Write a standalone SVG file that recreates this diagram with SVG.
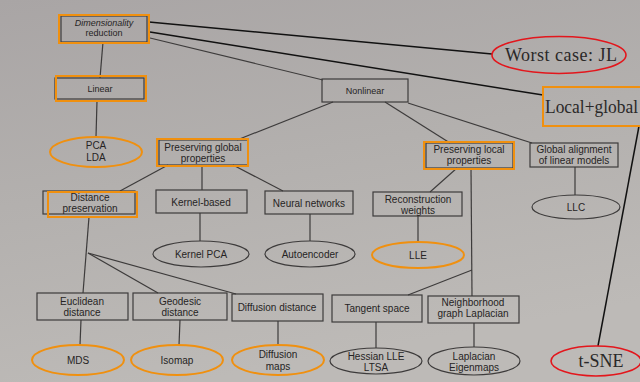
<svg xmlns="http://www.w3.org/2000/svg" width="640" height="382" viewBox="0 0 640 382">
<defs>
<linearGradient id="bg" x1="0" y1="0" x2="0.3" y2="1">
<stop offset="0" stop-color="#a9a5a5"/>
<stop offset="0.5" stop-color="#b3b0ae"/>
<stop offset="1" stop-color="#bdbab7"/>
</linearGradient>
<style>
.box{fill:none;stroke:#3d3b3b;stroke-width:1.2}
.hl{fill:none;stroke:#f0900f;stroke-width:2}
.red{fill:none;stroke:#e3161c;stroke-width:1.6}
.edge{stroke:#3d3b3b;stroke-width:1.2;fill:none}
.ann{stroke:#111;stroke-width:1.5;fill:none}
.t{font-family:"Liberation Sans",Arial,sans-serif;font-size:10px;fill:#262424;text-anchor:middle}
.s{font-family:"Liberation Serif","Times New Roman",serif;fill:#2a2828}
</style>
</defs>
<rect width="640" height="382" fill="url(#bg)"/>

<g id="connectors">
<line class="edge" x1="103" y1="42" x2="100" y2="78"/>
<line class="edge" x1="150" y1="38" x2="323" y2="80"/>
<line class="edge" x1="97" y1="101" x2="96" y2="137"/>
<line class="edge" x1="333" y1="102" x2="237" y2="140"/>
<line class="edge" x1="385" y1="102" x2="450" y2="143"/>
<line class="edge" x1="408" y1="103" x2="532" y2="143"/>
<line class="edge" x1="168" y1="165" x2="120" y2="191"/>
<line class="edge" x1="202" y1="166" x2="202" y2="190"/>
<line class="edge" x1="233" y1="165" x2="283" y2="191"/>
<line class="edge" x1="457" y1="168" x2="430" y2="192"/>
<line class="edge" x1="471" y1="168" x2="472" y2="296"/>
<line class="edge" x1="472" y1="270" x2="408" y2="295"/>
<line class="edge" x1="575" y1="167" x2="575" y2="195"/>
<line class="edge" x1="200" y1="213" x2="200" y2="241"/>
<line class="edge" x1="310" y1="214" x2="310" y2="241"/>
<line class="edge" x1="418" y1="216" x2="418" y2="242"/>
<line class="edge" x1="89" y1="217" x2="83" y2="293"/>
<line class="edge" x1="88" y1="253" x2="158" y2="293"/>
<line class="edge" x1="88" y1="253" x2="236" y2="294"/>
<line class="edge" x1="81" y1="320" x2="80" y2="345"/>
<line class="edge" x1="180" y1="320" x2="179" y2="345"/>
<line class="edge" x1="278" y1="321" x2="278" y2="345"/>
<line class="edge" x1="376" y1="322" x2="376" y2="348"/>
<line class="edge" x1="474" y1="323" x2="474" y2="347"/>
<line class="ann" x1="149" y1="22" x2="492" y2="54"/>
<line class="ann" x1="150" y1="32" x2="543" y2="95"/>
<line class="ann" x1="598" y1="346" x2="639" y2="126"/>
</g>

<g id="dimred">
<rect class="box" x="61" y="16" width="86" height="26"/>
<rect class="hl" x="59" y="15" width="90" height="28"/>
<text class="t" style="font-size:9px;font-style:italic" x="104" y="26">Dimensionality</text>
<text class="t" style="font-size:9px" x="104" y="36">reduction</text>
</g>
<g id="linear">
<rect class="box" x="55" y="78" width="89" height="21"/>
<rect class="hl" x="56" y="76" width="90" height="25"/>
<text class="t" style="font-size:9px" x="100" y="92">Linear</text>
</g>
<g id="nonlinear">
<rect class="box" x="322" y="79" width="86" height="23"/>
<text class="t" style="font-size:9px" x="365" y="94">Nonlinear</text>
</g>
<g id="pcalda">
<ellipse class="hl" cx="96" cy="152" rx="46" ry="15"/>
<text class="t" x="96" y="149">PCA</text>
<text class="t" x="96" y="161">LDA</text>
</g>
<g id="pglobal">
<rect class="box" x="159" y="140" width="89" height="25"/>
<rect class="hl" x="157" y="139" width="91" height="27"/>
<text class="t" x="203" y="151">Preserving global</text>
<text class="t" x="203" y="162">properties</text>
</g>
<g id="plocal">
<rect class="box" x="426" y="143" width="87" height="25"/>
<rect class="hl" x="424" y="142" width="90" height="27"/>
<text class="t" x="469" y="153">Preserving local</text>
<text class="t" x="469" y="164">properties</text>
</g>
<g id="galign">
<rect class="box" x="530" y="143" width="88" height="24"/>
<text class="t" x="574" y="153">Global alignment</text>
<text class="t" x="574" y="164">of linear models</text>
</g>
<g id="distpres">
<rect class="box" x="43" y="191" width="92" height="23"/>
<rect class="hl" x="48" y="192" width="89" height="25"/>
<text class="t" x="90" y="201">Distance</text>
<text class="t" x="90" y="212">preservation</text>
</g>
<g id="kernel">
<rect class="box" x="156" y="190" width="91" height="23"/>
<text class="t" x="201" y="206">Kernel-based</text>
</g>
<g id="neural">
<rect class="box" x="265" y="191" width="88" height="23"/>
<text class="t" x="309" y="207">Neural networks</text>
</g>
<g id="recon">
<rect class="box" x="373" y="192" width="89" height="24"/>
<text class="t" x="418" y="203">Reconstruction</text>
<text class="t" x="418" y="214">weights</text>
</g>
<g id="llc">
<ellipse class="box" cx="576" cy="207" rx="44" ry="12"/>
<text class="t" x="576" y="211">LLC</text>
</g>
<g id="kpca">
<ellipse class="box" cx="201" cy="254" rx="48" ry="13"/>
<text class="t" x="201" y="258">Kernel PCA</text>
</g>
<g id="autoenc">
<ellipse class="box" cx="310" cy="254" rx="45" ry="13"/>
<text class="t" x="310" y="258">Autoencoder</text>
</g>
<g id="lle">
<ellipse class="hl" cx="418" cy="255" rx="46" ry="13"/>
<text class="t" x="418" y="259">LLE</text>
</g>
<g id="euclid">
<rect class="box" x="37" y="293" width="91" height="27"/>
<text class="t" x="82" y="305">Euclidean</text>
<text class="t" x="82" y="316">distance</text>
</g>
<g id="geodesic">
<rect class="box" x="133" y="293" width="94" height="27"/>
<text class="t" x="180" y="305">Geodesic</text>
<text class="t" x="180" y="316">distance</text>
</g>
<g id="diffdist">
<rect class="box" x="232" y="294" width="91" height="27"/>
<text class="t" x="277" y="311">Diffusion distance</text>
</g>
<g id="tangent">
<rect class="box" x="332" y="295" width="90" height="27"/>
<text class="t" x="377" y="312">Tangent space</text>
</g>
<g id="nglap">
<rect class="box" x="428" y="296" width="91" height="27"/>
<text class="t" x="473" y="306">Neighborhood</text>
<text class="t" x="473" y="317">graph Laplacian</text>
</g>
<g id="mds">
<ellipse class="hl" cx="78" cy="360" rx="46" ry="15"/>
<text class="t" x="78" y="364">MDS</text>
</g>
<g id="isomap">
<ellipse class="hl" cx="177" cy="360" rx="46" ry="15"/>
<text class="t" x="177" y="364">Isomap</text>
</g>
<g id="diffmaps">
<ellipse class="hl" cx="278" cy="360" rx="46" ry="15"/>
<text class="t" x="278" y="358">Diffusion</text>
<text class="t" x="278" y="370">maps</text>
</g>
<g id="hessian">
<ellipse class="box" cx="376" cy="361" rx="46" ry="13"/>
<text class="t" x="376" y="360">Hessian LLE</text>
<text class="t" x="376" y="371">LTSA</text>
</g>
<g id="laplacian">
<ellipse class="box" cx="474" cy="361" rx="46" ry="14"/>
<text class="t" x="474" y="360">Laplacian</text>
<text class="t" x="474" y="371">Eigenmaps</text>
</g>
<g id="worst">
<ellipse class="red" cx="559" cy="55" rx="67" ry="18.5"/>
<text class="s" x="561" y="61" font-size="18" text-anchor="middle" textLength="112">Worst case: JL</text>
</g>
<g id="localglobal">
<rect class="hl" x="543" y="87" width="100" height="39"/>
<text class="s" x="545" y="113" font-size="18" textLength="93" lengthAdjust="spacingAndGlyphs">Local+global</text>
</g>
<g id="tsne">
<ellipse class="red" cx="596" cy="361" rx="45" ry="15"/>
<text class="s" x="601" y="367" font-size="18" text-anchor="middle">t-SNE</text>
</g>
</svg>
